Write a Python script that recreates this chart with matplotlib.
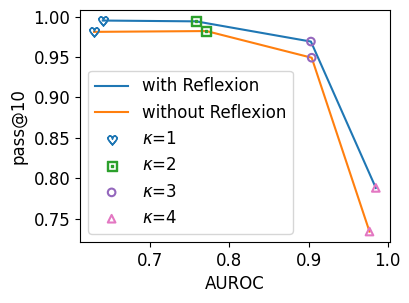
import matplotlib.pyplot as plt

auroc_with = [0.640, 0.758, 0.903, 0.985]
pass_with = [0.995, 0.994, 0.969, 0.788]
auroc_without = [0.629, 0.771, 0.904, 0.977]
pass_without = [0.981, 0.982, 0.949, 0.734]

kappas = [1, 2, 3, 4]
markers = [r'$\heartsuit$', r'$\boxdot$', 'o', '^']
colores = ['C0', 'C2', 'C4', 'C6']

fig, ax = plt.subplots(figsize=(4.1, 3.03), dpi=100)
fig.subplots_adjust(left=0.195, right=0.951, top=0.967, bottom=0.201)

ax.plot(auroc_with, pass_with, color='C0', label='with Reflexion')
ax.plot(auroc_without, pass_without, color='C1', label='without Reflexion')

for i in range(len(kappas)):
    m = markers[i]
    if m.startswith('$'):
        kw = dict(color=colores[i], s=45)
    else:
        kw = dict(facecolors='none', edgecolors=colores[i], s=30, linewidths=1.5)
    ax.scatter([auroc_with[i], auroc_without[i]], [pass_with[i], pass_without[i]],
               marker=m, label=r'$\kappa$=%d' % kappas[i], zorder=3, **kw)

ax.set_xlabel('AUROC', fontsize=12)
ax.set_ylabel('pass@10', fontsize=12)
ax.tick_params(labelsize=12)
ax.set_xticks([0.7, 0.8, 0.9, 1.0])
ax.legend(loc='lower left', fontsize=12)

plt.savefig('out.png')
